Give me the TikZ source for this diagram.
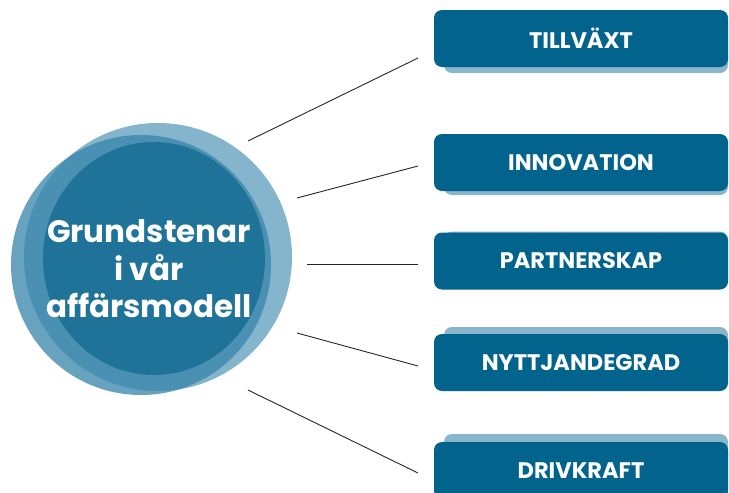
\documentclass[tikz,border=0pt]{standalone}
\usepackage{fontspec}
\setmainfont{Poppins}
\usetikzlibrary{shapes}

\definecolor{boxblue}{HTML}{02638C}
\definecolor{shadowblue}{HTML}{8AB6CB}
\definecolor{ringblue}{HTML}{3483AA}
\definecolor{coreblue}{HTML}{1F7399}

\begin{document}
\begin{tikzpicture}[x = 1pt, y = -1pt]
\tikzstyle{PillarStyle}=[shape = rectangle,
                         rounded corners = 8pt,
                         minimum width = 294pt,
                         minimum height = 57pt,
                         fill = boxblue,
                         text = white,
                         font = \bfseries\fontsize{22.5}{22.5}\selectfont]
\tikzstyle{ShadowStyle}=[shape = rectangle,
                         rounded corners = 8pt,
                         minimum width = 284pt,
                         minimum height = 57pt,
                         fill = shadowblue]
\tikzstyle{LinkStyle}=[draw = black!85, line width = 0.9pt]
\useasboundingbox (0, 0) rectangle (729, 493);
% the three discs
\fill[ringblue, opacity = 0.6] (158, 257) circle (134);
\fill[ringblue, opacity = 0.75] (141, 265) circle (130);
\fill[coreblue] (154, 258.5) ellipse [x radius = 111, y radius = 116.5];
\node[text = white, align = center, font = \bfseries\fontsize{31}{37.5}\selectfont] (title) at (149, 269) {Grundstenar\\i vår\\affärsmodell};
% shadows under the boxes
\node[ShadowStyle] (s0) at (586, 44.5) {};
\node[ShadowStyle] (s1) at (586, 166.5) {};
\node[ShadowStyle] (s2) at (586, 260) {};
\node[ShadowStyle] (s3) at (586, 355.5) {};
\node[ShadowStyle] (s4) at (586, 462.5) {};
% the boxes
\node[PillarStyle] (p0) at (581, 38.5) {TILLVÄXT};
\node[PillarStyle] (p1) at (581, 162.5) {INNOVATION};
\node[PillarStyle] (p2) at (581, 261) {PARTNERSKAP};
\node[PillarStyle] (p3) at (581, 362.5) {NYTTJANDEGRAD};
\node[PillarStyle] (p4) at (581, 470.5) {DRIVKRAFT};
% ends of the links
\coordinate (c0) at (248, 141);
\coordinate (c1) at (297, 198);
\coordinate (c2) at (307, 264);
\coordinate (c3) at (297, 333);
\coordinate (c4) at (248, 390);
\coordinate (e0) at (418, 58);
\coordinate (e1) at (418, 166);
\coordinate (e2) at (418, 264);
\coordinate (e3) at (418, 366);
\coordinate (e4) at (418, 473);
\draw[LinkStyle] (c0) -- (e0);
\draw[LinkStyle] (c1) -- (e1);
\draw[LinkStyle] (c2) -- (e2);
\draw[LinkStyle] (c3) -- (e3);
\draw[LinkStyle] (c4) -- (e4);
\end{tikzpicture}
\end{document}
